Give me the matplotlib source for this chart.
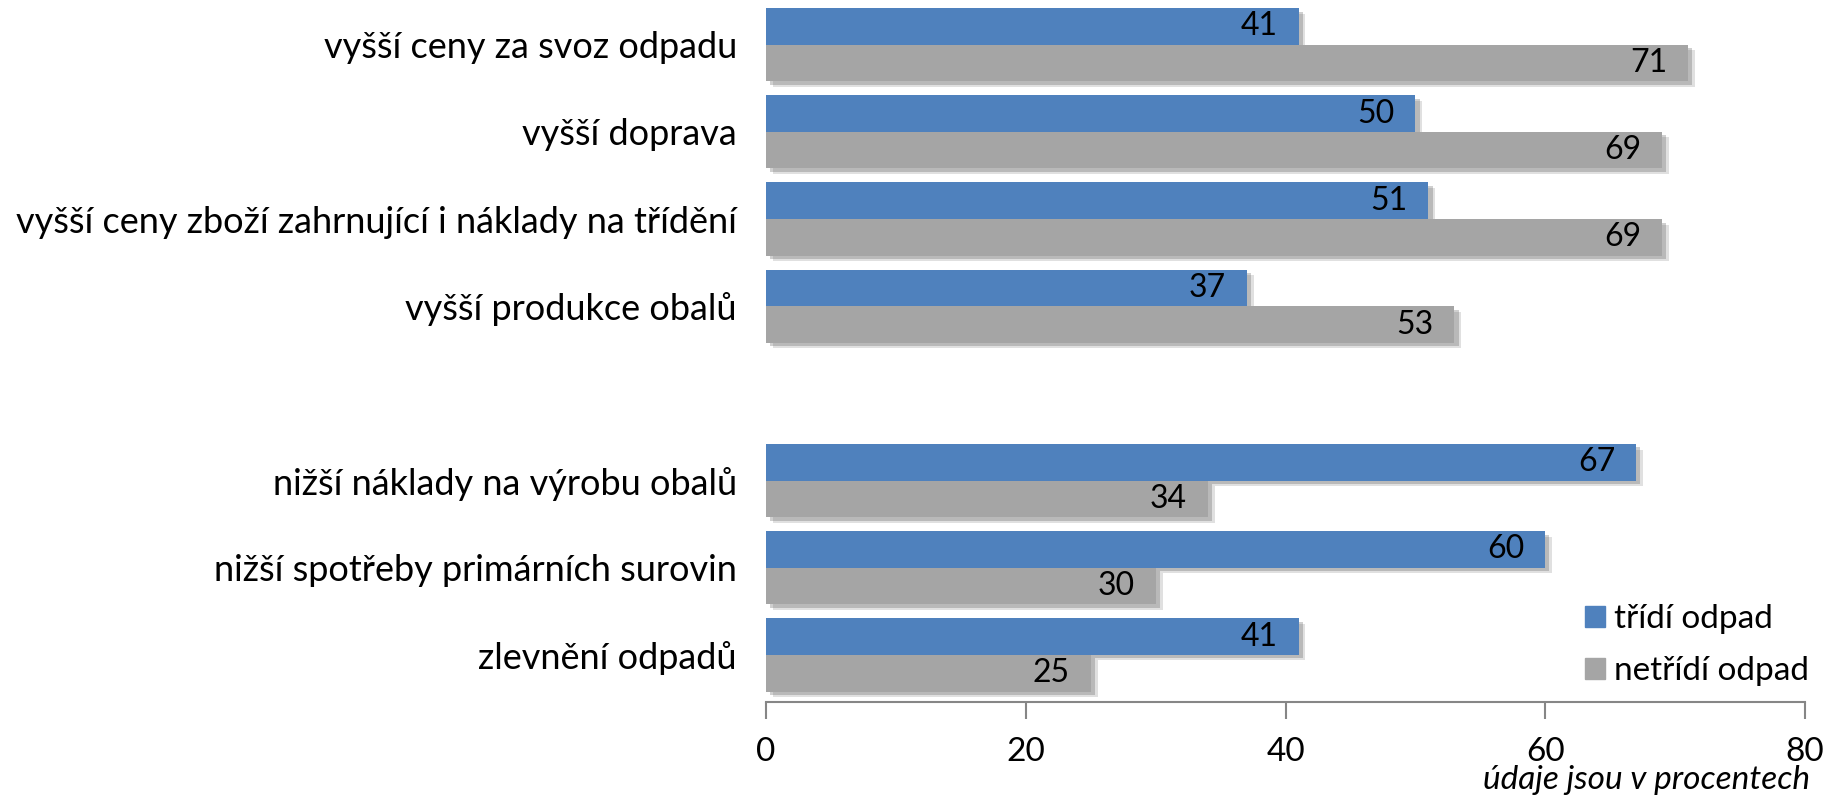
import numpy as np
import matplotlib
matplotlib.use("Agg")
import matplotlib.pyplot as plt
from matplotlib import patheffects as pe
from matplotlib.patches import Patch

plt.rcParams["font.family"] = ["Lato", "DejaVu Sans"]

categories = [
    "vyšší ceny za svoz odpadu",
    "vyšší doprava",
    "vyšší ceny zboží zahrnující i náklady na třídění",
    "vyšší produkce obalů",
    "",
    "nižší náklady na výrobu obalů",
    "nižší spotřeby primárních surovin",
    "zlevnění odpadů",
]
tridi = [41, 50, 51, 37, np.nan, 67, 60, 41]
netridi = [71, 69, 69, 53, np.nan, 34, 30, 25]
series_names = ["třídí odpad", "netřídí odpad"]
xticks = [0, 20, 40, 60, 80]

BLUE = "#4F81BD"
GRAY = "#A5A5A5"
AXC = "#868686"

fig = plt.figure(figsize=(18.34, 8.01), dpi=100)
ax = fig.add_axes([0.4177, 0.1236, 0.5665, 0.875])

y = np.arange(len(categories))
h = 0.42
shadow = [pe.SimplePatchShadow(offset=(5, -4), shadow_rgbFace="#555555", alpha=0.18),
          pe.SimplePatchShadow(offset=(3, -2.5), shadow_rgbFace="#555555", alpha=0.28),
          pe.Normal()]

b1 = ax.barh(y - h / 2, tridi, height=h, color=BLUE, zorder=2)
b2 = ax.barh(y + h / 2, netridi, height=h, color=GRAY, zorder=3)
for b in list(b1) + list(b2):
    b.set_path_effects(shadow)

# value labels inside the bar ends
for bars, vals in ((b1, tridi), (b2, netridi)):
    for bar, v in zip(bars, vals):
        if np.isnan(v):
            continue
        ax.text(v - 1.6, bar.get_y() + bar.get_height() / 2, f"{v:.0f}",
                ha="right", va="center", fontsize=23, color="black", zorder=5)

ax.set_xlim(0, 80)
ax.set_ylim(len(categories) - 0.46, -0.5)
ax.set_yticks(y)
ax.set_yticklabels(categories, fontsize=26)
ax.tick_params(axis="y", length=0, pad=21)
ax.set_xticks(xticks)
ax.tick_params(axis="x", direction="out", length=12, width=1.5, color=AXC,
               labelsize=24, pad=13)
for s in ("top", "right", "left"):
    ax.spines[s].set_visible(False)
ax.spines["bottom"].set_color(AXC)
ax.spines["bottom"].set_linewidth(1.5)

handles = [Patch(color=BLUE), Patch(color=GRAY)]
ax.legend(handles, series_names, loc="upper left", bbox_to_anchor=(0.848, 0.283),
          bbox_transform=fig.transFigure, frameon=False, fontsize=24,
          handlelength=0.6, handleheight=0.6, handletextpad=0.25, labelspacing=0.66)

fig.text(0.987, 0.026, "údaje jsou v procentech", ha="right", va="center",
         fontsize=24, style="italic")

fig.savefig("out.png", dpi=100, facecolor="white")
